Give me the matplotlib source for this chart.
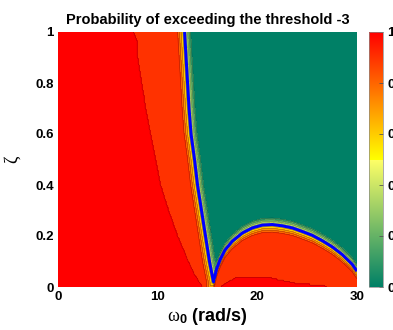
import numpy as np
import matplotlib
matplotlib.use("Agg")
import matplotlib.pyplot as plt
from matplotlib.colors import ListedColormap, Normalize
from matplotlib.cm import ScalarMappable

plt.rcParams["font.family"] = ["Liberation Sans", "DejaVu Sans"]
plt.rcParams["mathtext.fontset"] = "custom"
plt.rcParams["mathtext.rm"] = "Liberation Serif"
plt.rcParams["mathtext.bf"] = "Liberation Sans:bold"
plt.rcParams["mathtext.it"] = "Liberation Serif:italic"

# ---- data ---------------------------------------------------------------
# edge of the certain-exceedance (p = 1) zone on the low-frequency side
zeta_red = [0.0, 0.05, 0.10, 0.20, 0.30, 0.40, 0.50, 0.60, 0.70, 0.80, 0.90, 0.97, 1.0]
omega_red = [14.5, 13.7, 13.1, 12.0, 11.1, 10.3, 9.8, 9.3, 8.8, 8.4, 8.0, 7.9, 7.6]

# p = 0.5 contour, left branch (omega as a function of zeta)
zeta_branch = [0.02, 0.10, 0.20, 0.30, 0.40, 0.50, 0.60, 0.70, 0.80, 0.90, 1.0]
omega_branch = [15.6, 15.2, 14.8, 14.4, 14.0, 13.7, 13.35, 13.15, 13.0, 12.85, 12.7]

# p = 0.5 contour, right arch (zeta as a function of omega)
arch_omega = [15.6, 15.9, 16.25, 16.75, 17.5, 18.5, 19.5, 20.5, 21.5, 22.5,
              23.5, 24.5, 25.5, 26.5, 27.5, 28.5, 29.5, 30.0]
arch_zeta = [0.02, 0.07, 0.106, 0.145, 0.18, 0.212, 0.232, 0.243, 0.245, 0.24,
             0.232, 0.218, 0.203, 0.182, 0.158, 0.128, 0.09, 0.062]

# small p = 1 pocket just above zeta = 0 beyond the resonance
bump_omega = [16.3, 17.0, 18.0, 21.0, 22.0, 23.3, 24.0, 26.6, 27.0]
bump_zeta = [0.0, 0.02, 0.04, 0.04, 0.03, 0.02, 0.012, 0.008, 0.0]

p_certain = 1.0      # probability in the red zone
p_plateau = 0.93     # probability in the orange-red zone
p_safe = 0.0         # probability in the green zone
omega_spread = 0.75  # half-width of the transition across the left branch
zeta_spread = 0.032  # half-width of the transition across the arch

# ---- field on the (omega0, zeta) grid ------------------------------------
omega = np.linspace(0, 30, 301)
zeta = np.linspace(0, 1, 201)
W, Z = np.meshgrid(omega, zeta)

w_t = np.interp(Z, zeta_branch, omega_branch)
z_a = np.interp(W, arch_omega, arch_zeta)
d = np.minimum((W - w_t) / omega_spread, (Z - z_a) / zeta_spread)

w_r = np.interp(Z, zeta_red, omega_red)
z_b = np.interp(W, bump_omega, bump_zeta)
p_in = np.where((W < w_r) | (Z < z_b), p_certain, p_plateau)
P = np.where(d < 0,
             0.5 + (p_in - 0.5) * np.clip(-d, 0, 1),
             p_safe + (0.5 - p_safe) * (1 - np.clip(d, 0, 1)))

# ---- colormap: summer below 0.5, autumn (reversed) above -----------------
lower = plt.get_cmap("summer")(np.linspace(0, 1, 128))
upper = plt.get_cmap("autumn_r")(np.linspace(0, 1, 128))
cmap = ListedColormap(np.vstack([lower, upper]))

levels = [0, 0.1, 0.2, 0.3, 0.4, 0.5, 0.6, 0.7, 0.8, 0.9, 0.97, 1.001]
band_values = [0, 0.1, 0.2, 0.3, 0.4, 0.5, 0.6, 0.7, 0.8, 0.9, 1.0]
band_colors = [cmap(v) for v in band_values]

fig = plt.figure(figsize=(3.93, 3.30), dpi=100)
ax = fig.add_axes([58 / 393, 43 / 330, 299 / 393, 255 / 330])

ax.contourf(W, Z, P, levels=levels, colors=band_colors)
ax.contour(W, Z, P, levels=[0.1, 0.2, 0.3, 0.4, 0.6, 0.7, 0.8, 0.9, 0.97],
           colors="k", linewidths=0.4, alpha=0.35)
ax.contour(W, Z, P, levels=[0.5], colors="#0000ff", linewidths=2.2)

ax.set_xlim(0, 30)
ax.set_ylim(0, 1)
ax.set_xticks([0, 10, 20, 30])
ax.set_xticklabels(["0", "10", "20", "30"])
ax.set_yticks([0, 0.2, 0.4, 0.6, 0.8, 1.0])
ax.set_yticklabels(["0", "0.2", "0.4", "0.6", "0.8", "1"])
ax.tick_params(length=0, pad=3, labelsize=9.5)
for lab in ax.get_xticklabels() + ax.get_yticklabels():
    lab.set_fontweight("bold")
for s in ax.spines.values():
    s.set_visible(False)

ax.set_title("Probability of exceeding the threshold -3",
             fontsize=10.5, fontweight="bold", pad=6)
ax.set_xlabel(r"$\mathrm{\omega}_{\mathbf{0}}$ (rad/s)",
              fontsize=13, fontweight="bold", labelpad=2)
ax.set_ylabel("ζ", fontsize=13, family="Liberation Serif", labelpad=10)

cax = fig.add_axes([369 / 393, 43 / 330, 14 / 393, 255 / 330])
sm = ScalarMappable(norm=Normalize(0, 1), cmap=cmap)
cb = fig.colorbar(sm, cax=cax)
cb.set_ticks([0, 0.2, 0.4, 0.6, 0.8, 1.0])
cb.set_ticklabels(["0", "0.2", "0.4", "0.6", "0.8", "1"])
cb.outline.set_linewidth(0.5)
cb.outline.set_edgecolor("#888888")
cax.tick_params(direction="in", length=3, width=0.6, color="#555555",
                labelsize=9.5, pad=3)
for lab in cax.get_yticklabels():
    lab.set_fontweight("bold")

fig.savefig("out.png", dpi=100)
